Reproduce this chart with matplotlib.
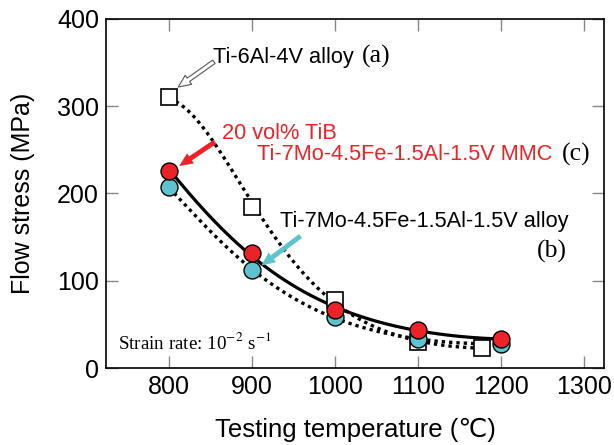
import numpy as np
import matplotlib.pyplot as plt

# Datos
temp_ti64 = [800, 900, 1000, 1100, 1177]
stress_ti64 = [311, 184, 78, 30, 23]

temp_mmc = [800, 900, 1000, 1100, 1200]
stress_mmc = [226, 132, 67, 44, 33]

temp_alloy = [800, 900, 1000, 1100, 1200]
stress_alloy = [207, 112, 58, 33, 28]

x_ticks = [800, 900, 1000, 1100, 1200, 1300]
y_ticks = [0, 100, 200, 300, 400]

rojo = "#ec2227"
cian = "#5cc3cf"
sans = ["Liberation Sans", "DejaVu Sans"]
serif = ["Liberation Serif", "DejaVu Serif"]

plt.rcParams["font.family"] = sans
plt.rcParams["mathtext.fontset"] = "stix"


def curva_suave(x, y, n=200):
    # ajuste polinomico en escala logaritmica, sobre los propios puntos
    coef = np.polyfit(x, np.log(y), 3)
    xs = np.linspace(min(x), max(x), n)
    return xs, np.exp(np.polyval(coef, xs))


fig = plt.figure(figsize=(6.14, 4.45), dpi=100)
ax = fig.add_axes([106 / 614, 1 - 368 / 445, 498 / 614, 349 / 445])

# Curvas de ajuste
xs, ys = curva_suave(temp_ti64, stress_ti64)
ax.plot(xs, ys, color="black", lw=2.4, ls=(0, (1, 1.2)), zorder=2)
xs, ys = curva_suave(temp_alloy, stress_alloy)
ax.plot(xs, ys, color="black", lw=2.4, ls=(0, (1, 1.2)), zorder=2)
xs, ys = curva_suave(temp_mmc, stress_mmc)
ax.plot(xs, ys, color="black", lw=2.3, zorder=2)

# Puntos
ax.plot(temp_ti64, stress_ti64, ls="none", marker="s", ms=11,
        mfc="white", mec="black", mew=1.2, zorder=3)
ax.plot(temp_alloy, stress_alloy, ls="none", marker="o", ms=12.2,
        mfc=cian, mec="black", mew=1.0, zorder=4)
ax.plot(temp_mmc, stress_mmc, ls="none", marker="o", ms=12.2,
        mfc=rojo, mec="black", mew=1.0, zorder=5)

# Etiquetas con flechas
flecha = "simple,head_width=0.8,head_length=0.9,tail_width=0.3"
ax.annotate("", xy=(811, 322), xytext=(854, 351),
            arrowprops=dict(arrowstyle=flecha, fc="white", ec="#555555",
                            lw=0.8, shrinkA=0, shrinkB=0))
ax.text(853, 350, "Ti-6Al-4V alloy", fontsize=15.7, va="baseline")
ax.text(1032, 350, "(a)", fontsize=18.5, va="baseline", family=serif)

ax.annotate("", xy=(813, 232), xytext=(855, 259),
            arrowprops=dict(arrowstyle=flecha, fc=rojo, ec=rojo, lw=0.5,
                            shrinkA=0, shrinkB=0))
ax.text(864, 262.5, "20 vol% TiB", fontsize=15.7, va="baseline", color=rojo)
ax.text(906, 238, "Ti-7Mo-4.5Fe-1.5Al-1.5V MMC", fontsize=15.7,
        va="baseline", color=rojo)
ax.text(1273, 238, "(c)", fontsize=18.5, va="baseline", family=serif)

ax.annotate("", xy=(912, 118), xytext=(958, 151),
            arrowprops=dict(arrowstyle=flecha, fc=cian, ec=cian, lw=0.5,
                            shrinkA=0, shrinkB=0))
ax.text(934, 161.5, "Ti-7Mo-4.5Fe-1.5Al-1.5V alloy", fontsize=15.7,
        va="baseline")
ax.text(1243, 127, "(b)", fontsize=18.5, va="baseline", family=serif)

ax.text(738, 22, r"Strain rate: 10$^{-2}$ s$^{-1}$", fontsize=13.7,
        va="baseline", family=serif)

# Ejes
ax.set_xlim(724, 1324)
ax.set_ylim(0, 400)
ax.set_xticks(x_ticks)
ax.set_yticks(y_ticks)
ax.tick_params(direction="in", length=8.5, width=1, color="#888888",
               top=True, right=True, labelsize=18, pad=5)
for sp in ax.spines.values():
    sp.set_linewidth(1.2)
ax.set_xlabel("Testing temperature (\u2103)", fontsize=18.5, labelpad=14)
ax.set_ylabel("Flow stress (MPa)", fontsize=18, labelpad=16)

fig.savefig("out.png", dpi=100)
